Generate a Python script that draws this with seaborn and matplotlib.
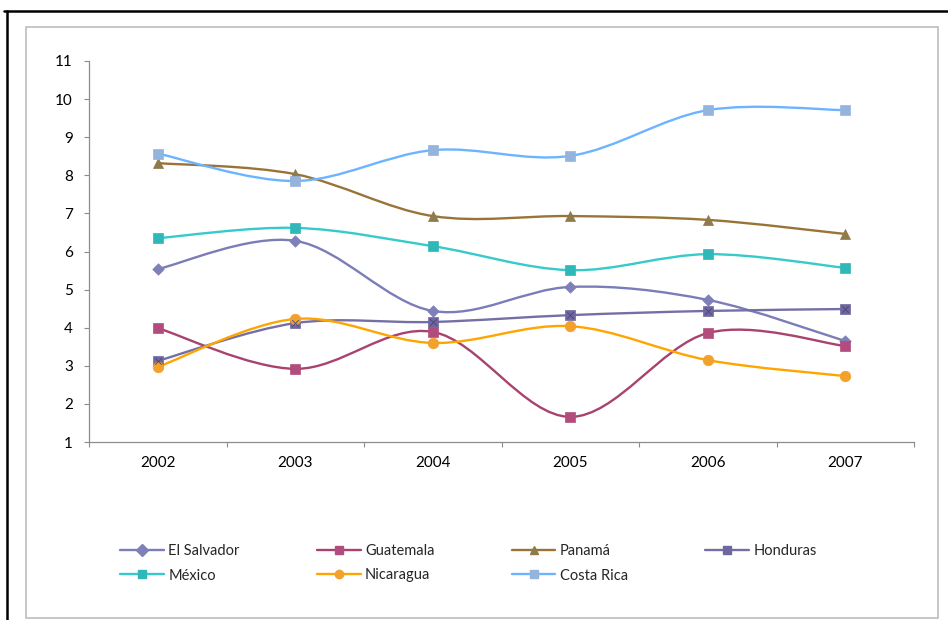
import numpy as np
import pandas as pd
import matplotlib
matplotlib.use("Agg")
import matplotlib.pyplot as plt
from matplotlib.path import Path
from matplotlib.patches import PathPatch, Rectangle
from matplotlib.lines import Line2D
import seaborn as sns

# ---- data -------------------------------------------------------------
years = ["2002", "2003", "2004", "2005", "2006", "2007"]
el_salvador = [5.54, 6.28, 4.44, 5.07, 4.73, 3.65]
guatemala = [3.99, 2.92, 3.89, 1.66, 3.86, 3.52]
panama = [8.32, 8.03, 6.93, 6.93, 6.83, 6.46]
honduras = [3.13, 4.12, 4.15, 4.33, 4.44, 4.49]
mexico = [6.35, 6.62, 6.14, 5.51, 5.93, 5.57]
nicaragua = [2.97, 4.23, 3.60, 4.04, 3.15, 2.73]
costa_rica = [8.57, 7.85, 8.66, 8.51, 9.71, 9.71]

series_names = ["El Salvador", "Guatemala", "Panamá", "Honduras",
                "México", "Nicaragua", "Costa Rica"]
series_values = [el_salvador, guatemala, panama, honduras,
                 mexico, nicaragua, costa_rica]
y_ticks = list(range(1, 12))

# ---- styles -----------------------------------------------------------
line_colors = {
    "El Salvador": "#7A7DB8",
    "Guatemala": "#A8426F",
    "Panamá": "#9A7436",
    "Honduras": "#7470A6",
    "México": "#36CACA",
    "Nicaragua": "#FFA500",
    "Costa Rica": "#6DB4FF",
}
marker_colors = {
    "El Salvador": "#7E80B8",
    "Guatemala": "#B24C7C",
    "Panamá": "#8E7A4A",
    "Honduras": "#6E67A0",
    "México": "#2FB8B8",
    "Nicaragua": "#F2A22C",
    "Costa Rica": "#94B4DE",
}
markers = {
    "El Salvador": "D",
    "Guatemala": "s",
    "Panamá": "^",
    "Honduras": "s",
    "México": "s",
    "Nicaragua": "o",
    "Costa Rica": "s",
}
marker_sizes = {
    "El Salvador": 34,
    "Guatemala": 62,
    "Panamá": 52,
    "Honduras": 54,
    "México": 54,
    "Nicaragua": 58,
    "Costa Rica": 50,
}

sns.set_theme(style="white")
plt.rcParams["font.family"] = ["Lato", "DejaVu Sans"]

W, H = 948, 620
fig = plt.figure(figsize=(W / 100, H / 100), dpi=100)
ax = fig.add_axes([89 / W, 1 - 442 / H, (914 - 89) / W, (442 - 61) / H])

x_pos = np.arange(len(years), dtype=float)


def smooth_path(xs, ys):
    """Catmull-Rom style Bezier path through the points."""
    pts = np.column_stack([xs, ys])
    n = len(pts)
    verts = [pts[0]]
    codes = [Path.MOVETO]
    for i in range(n - 1):
        p0 = pts[i - 1] if i > 0 else pts[i]
        p1 = pts[i]
        p2 = pts[i + 1]
        p3 = pts[i + 2] if i + 2 < n else pts[i + 1]
        c1 = p1 + (p2 - p0) / 6.0
        c2 = p2 - (p3 - p1) / 6.0
        verts += [c1, c2, p2]
        codes += [Path.CURVE4] * 3
    return Path(verts, codes)


records = []
for name, vals in zip(series_names, series_values):
    ax.add_patch(PathPatch(smooth_path(x_pos, vals), facecolor="none",
                           edgecolor=line_colors[name], lw=1.7,
                           capstyle="round", zorder=2))
    for xp, v in zip(x_pos, vals):
        records.append({"x": xp, "value": v, "serie": name})

df = pd.DataFrame(records)
for name in series_names:
    sub = df[df["serie"] == name]
    sns.scatterplot(data=sub, x="x", y="value", marker=markers[name],
                    s=marker_sizes[name], color=marker_colors[name],
                    edgecolor=marker_colors[name], linewidth=0.5,
                    ax=ax, zorder=3, legend=False)
# cross inside the Honduras squares
hon = df[df["serie"] == "Honduras"]
sns.scatterplot(data=hon, x="x", y="value", marker="x", s=22,
                color="#4A4578", linewidth=0.6, ax=ax, zorder=4, legend=False)

# ---- axes -------------------------------------------------------------
ax.set_xlim(-0.5, len(years) - 0.5)
ax.set_ylim(1, 11)
ax.set_yticks(y_ticks)
ax.set_yticklabels([str(t) for t in y_ticks])
ax.set_xticks(np.arange(-0.5, len(years), 1.0))
ax.set_xticklabels([])
ax.set_xticks(x_pos, minor=True)
ax.set_xticklabels(years, minor=True)
ax.set_xlabel("")
ax.set_ylabel("")

axis_gray = "#8C8C8C"
for side in ["top", "right"]:
    ax.spines[side].set_visible(False)
for side in ["left", "bottom"]:
    ax.spines[side].set_color(axis_gray)
    ax.spines[side].set_linewidth(0.9)

ax.tick_params(axis="y", which="major", direction="out", length=3.6,
               width=0.8, color=axis_gray, pad=8, labelsize=11,
               labelcolor="#000000", left=True)
ax.tick_params(axis="x", which="major", direction="out", length=3.6,
               width=0.8, color=axis_gray, bottom=True)
ax.tick_params(axis="x", which="minor", length=0, pad=10, labelsize=11,
               labelcolor="#000000", bottom=True)
ax.grid(False)

# ---- legend (4 columns, filled row by row) ----------------------------
ncol = 4
nrow = int(np.ceil(len(series_names) / ncol))
legend_order = []
for c in range(ncol):
    for r in range(nrow):
        k = r * ncol + c
        if k < len(series_names):
            legend_order.append(k)

handles, labels = [], []
for k in legend_order:
    name = series_names[k]
    handles.append(Line2D([0], [0], color=line_colors[name], lw=1.7,
                          marker=markers[name], markersize=6,
                          markerfacecolor=marker_colors[name],
                          markeredgecolor=marker_colors[name]))
    labels.append(name)
fig.legend(handles, labels, ncol=ncol, frameon=False,
           loc="upper left", bbox_to_anchor=(120 / W, 1 - 544 / H),
           fontsize=10.5, handlelength=3.0, handletextpad=0.3,
           columnspacing=5.3, labelspacing=0.72, borderpad=0,
           borderaxespad=0)

# ---- frames -----------------------------------------------------------
fig.add_artist(Rectangle((26 / W, 1 - 618 / H), (938 - 26) / W,
                         (618 - 27) / H, transform=fig.transFigure,
                         fill=False, edgecolor="#BDBDBD", lw=1.2))
fig.add_artist(Line2D([4 / W, 1.0], [1 - 11 / H, 1 - 11 / H],
                      transform=fig.transFigure, color="black", lw=1.8))
fig.add_artist(Line2D([7 / W, 7 / W], [1 - 11 / H, 0.0],
                      transform=fig.transFigure, color="black", lw=1.8))

fig.savefig("out.png", dpi=100)
